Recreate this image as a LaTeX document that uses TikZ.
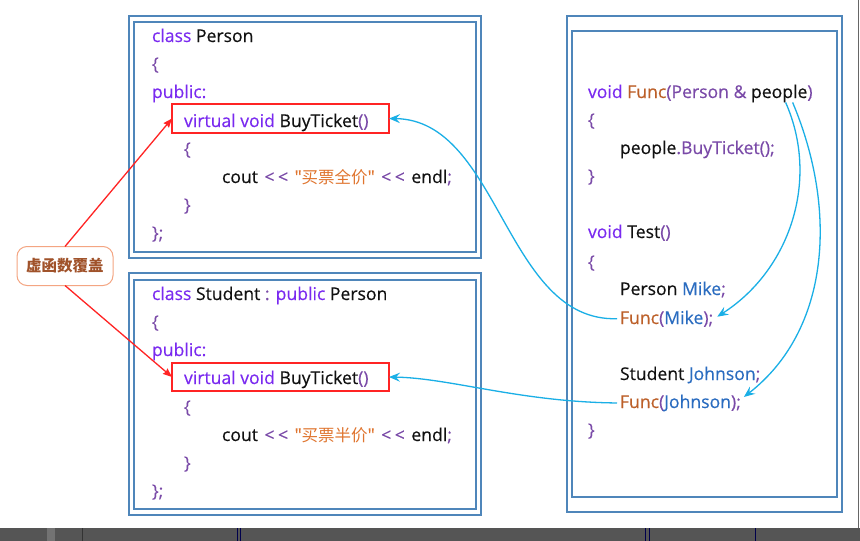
\documentclass[tikz,border=0pt]{standalone}
\usepackage{fontspec}
\setmainfont{Open Sans}[Ligatures=TeXOff,FakeBold=0.35]
\newfontfamily\cjk{Noto Sans CJK SC}[Ligatures=TeXOff]
\usetikzlibrary{arrows.meta,calc}
\definecolor{framec}{RGB}{79,134,186}
\definecolor{kwc}{HTML}{7A2AF0}
\definecolor{puc}{HTML}{7A4AA8}
\definecolor{stc}{HTML}{E0752F}
\definecolor{fnc}{HTML}{BC5F28}
\definecolor{vrc}{HTML}{2A6CC0}
\definecolor{txc}{HTML}{111111}
\definecolor{bluec}{HTML}{1AAFE6}
\definecolor{redc}{HTML}{FF2424}
\definecolor{bubc}{HTML}{F4A582}
\definecolor{bubt}{HTML}{A0522A}
\definecolor{barc}{HTML}{555555}
\newcommand\ckw[1]{\textcolor{kwc}{#1}}
\newcommand\cpu[1]{\textcolor{puc}{#1}}
\newcommand\cst[1]{\textcolor{stc}{#1}}
\newcommand\cfn[1]{\textcolor{fnc}{#1}}
\newcommand\cvr[1]{\textcolor{vrc}{#1}}
\newcommand\cshl{\cpu{<\kern3.5pt<}}
\newcommand\cgap{\hspace{6.5pt}}
\begin{document}
\begin{tikzpicture}[x=1pt,y=-1pt,
  every node/.style={inner sep=0pt,outer sep=0pt},
  code/.style={anchor=base west,text=txc,font=\fontsize{17.6}{20}\selectfont},
  frame/.style={draw=framec,line width=1.4pt},
  redbox/.style={draw=redc,line width=1.3pt,anchor=north west,minimum width=217pt},
  bubble/.style={draw=bubc,line width=1pt,rounded corners=10pt,fill=white,
    minimum width=96pt,minimum height=39pt,text=bubt,font=\fontsize{15.5}{17}\selectfont\cjk\bfseries},
  redarr/.style={draw=redc,line width=1.3pt,-{Stealth[length=9pt,width=7pt,inset=1pt]}},
  bluearr/.style={draw=bluec,line width=1.3pt,-{Stealth[length=11pt,width=9pt,inset=4pt]}}]
\useasboundingbox (0,0) rectangle (860,541);
\fill[white] (0,0) rectangle (860,541);
% frames
\draw[frame] (129,16) rectangle (481,258);
\draw[frame] (134,22) rectangle (476,252);
\draw[frame] (129,273) rectangle (481,515);
\draw[frame] (134,280) rectangle (476,509);
\draw[frame] (567,16) rectangle (842,512);
\draw[frame] (572,31) rectangle (837,497);
% bottom bar and right edge
\fill[barc] (0,528) rectangle (860,541);
\fill[black!55] (47,528) rectangle (55,541);
\draw[black!80,line width=0.6pt] (82.5,528) -- (82.5,541);
\draw[black!70!blue,line width=0.8pt] (237,528) -- (237,541) (240,528) -- (240,541);
\draw[black!70!blue,line width=0.8pt] (645,528) -- (645,541) (649,528) -- (649,541);
\draw[black!70!blue,line width=0.8pt] (755,528) -- (755,541);
\draw[black!60,line width=0.8pt] (858.5,0) -- (858.5,528);
% red boxes
\node[redbox,minimum height=29pt] (pbox) at (172,104) {};
\node[redbox,minimum height=28pt] (sbox) at (172,363) {};
% Person class
\node[code] (p1) at (152,42) {\ckw{class} Person};
\node[code] (p2) at (152,70) {\cpu{\{}};
\node[code] (p3) at (152,98) {\ckw{public:}};
\node[code] (p4) at (184,127) {\ckw{virtual void} BuyTicket\cpu{()}};
\node[code] (p5) at (184,155) {\cpu{\{}};
\node[code] (p6) at (222,183) {cout\cgap\cshl\cgap\cst{"{\cjk\fontsize{16.5}{20}\selectfont 买票全价}"}\cgap\cshl\cgap endl\cpu{;}};
\node[code] (p7) at (184,211) {\cpu{\}}};
\node[code] (p8) at (152,239) {\cpu{\};}};
% Student class
\node[code] (s1) at (152,300) {\ckw{class} Student \cpu{:} \ckw{public} Person};
\node[code] (s2) at (152,328) {\cpu{\{}};
\node[code] (s3) at (152,356) {\ckw{public:}};
\node[code] (s4) at (184,384) {\ckw{virtual void} BuyTicket\cpu{()}};
\node[code] (s5) at (184,413) {\cpu{\{}};
\node[code] (s6) at (222,441) {cout\cgap\cshl\cgap\cst{"{\cjk\fontsize{16.5}{20}\selectfont 买票半价}"}\cgap\cshl\cgap endl\cpu{;}};
\node[code] (s7) at (184,469) {\cpu{\}}};
\node[code] (s8) at (152,497) {\cpu{\};}};
% right code
\node[code] (r1) at (588,98) {\ckw{void} \cfn{Func}\cpu{(Person \&} people\cpu{)}};
\node[code] (r2) at (588,126) {\cpu{\{}};
\node[code] (r3) at (620,154) {people\cpu{.BuyTicket();}};
\node[code] (r4) at (588,182) {\cpu{\}}};
\node[code] (r5) at (588,238) {\ckw{void} Test\cpu{()}};
\node[code] (r6) at (588,268) {\cpu{\{}};
\node[code] (r7) at (620,295) {Person \cvr{Mike}\cpu{;}};
\node[code] (fm) at (620,324) {\cfn{Func}\cpu{(}\cvr{Mike}\cpu{);}};
\node[code] (r9) at (620,380) {Student \cvr{Johnson}\cpu{;}};
\node[code] (fj) at (620,408) {\cfn{Func}\cpu{(}\cvr{Johnson}\cpu{);}};
\node[code] (r11) at (588,436) {\cpu{\}}};
% bubble
\node[bubble] (bub) at (65,266) {虚函数覆盖};
% red arrows
\draw[redarr] (bub.north) -- (pbox.west);
\draw[redarr] (bub.south) -- (sbox.west);
% blue arrows
\coordinate (ppl) at ($(r1.east)+(-27,9)$);
\coordinate (ppl2) at ($(r1.east)+(-20,9)$);
\draw[bluearr] ($(fm.west)+(-3,0)$) .. controls (505,322) and (500,120) .. (pbox.east);
\draw[bluearr] ($(fj.west)+(-3,0)$) .. controls (520,402) and (450,378) .. (sbox.east);
\draw[bluearr] (ppl) .. controls (820,180) and (790,270) .. ($(fm.east)+(4,-2)$);
\draw[bluearr] (ppl2) .. controls (838,210) and (830,330) .. ($(fj.east)+(3,-6)$);
\end{tikzpicture}
\end{document}
